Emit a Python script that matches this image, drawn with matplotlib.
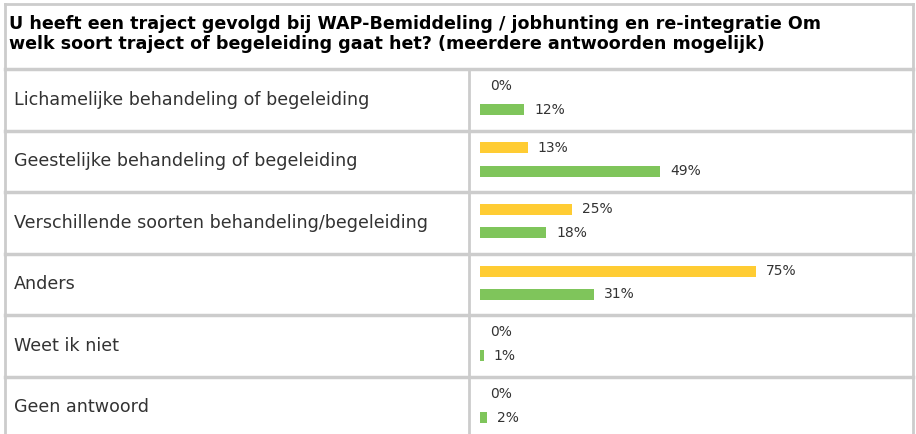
import matplotlib.pyplot as plt
import numpy as np

title = ("U heeft een traject gevolgd bij WAP-Bemiddeling / jobhunting en re-integratie Om\n"
         "welk soort traject of begeleiding gaat het? (meerdere antwoorden mogelijk)")
categories = ["Lichamelijke behandeling of begeleiding",
              "Geestelijke behandeling of begeleiding",
              "Verschillende soorten behandeling/begeleiding",
              "Anders",
              "Weet ik niet",
              "Geen antwoord"]
yellow_vals = [0, 13, 25, 75, 0, 0]
green_vals = [12, 49, 18, 31, 1, 2]

W, H = 916, 434
grid = '#cccccc'
yellow = '#ffcc33'
green = '#7fc55b'
txt = '#333333'

fig = plt.figure(figsize=(W / 100, H / 100), dpi=100)

# overlay in pixel coords for the table frame and text
bg = fig.add_axes([0, 0, 1, 1])
bg.set_xlim(0, W)
bg.set_ylim(H, 0)
bg.axis('off')

row_top = 69
row_h = 61.5
left, mid, right = 5, 469, 913

bg.plot([left, right], [4, 4], color=grid, lw=2)
bg.plot([left, left], [4, H], color=grid, lw=2)
bg.plot([right, right], [4, H], color=grid, lw=2)
for i in range(len(categories)):
    y = row_top + i * row_h
    bg.plot([left, right], [y, y], color=grid, lw=2.5)
    bg.text(14, y + row_h / 2, categories[i], fontsize=12.6, color=txt,
            va='center', ha='left')
bg.plot([mid, mid], [row_top, H], color=grid, lw=2)

bg.text(9, 34, title, fontsize=12.6, fontweight='bold', color='black',
        va='center', ha='left', linespacing=1.15)

# bar axes: 0..100% mapped onto pixels 480..848
n = len(categories)
ax = fig.add_axes([480 / W, 1 - (row_top + n * row_h) / H, 368 / W, n * row_h / H])
ax.set_xlim(0, 100)
ax.set_ylim(n, 0)
ax.axis('off')

pos = np.arange(n)
bh = 11 / row_h
yy = pos + 17.5 / row_h
yg = pos + 41 / row_h
ax.barh(yy, yellow_vals, height=bh, color=yellow, left=0)
ax.barh(yg, green_vals, height=bh, color=green, left=0)
for i in range(n):
    ax.text(yellow_vals[i] + 2.7, yy[i], f"{yellow_vals[i]}%", fontsize=10,
            color=txt, va='center', ha='left', clip_on=False)
    ax.text(green_vals[i] + 2.7, yg[i], f"{green_vals[i]}%", fontsize=10,
            color=txt, va='center', ha='left', clip_on=False)

fig.savefig('out.png', dpi=100)
